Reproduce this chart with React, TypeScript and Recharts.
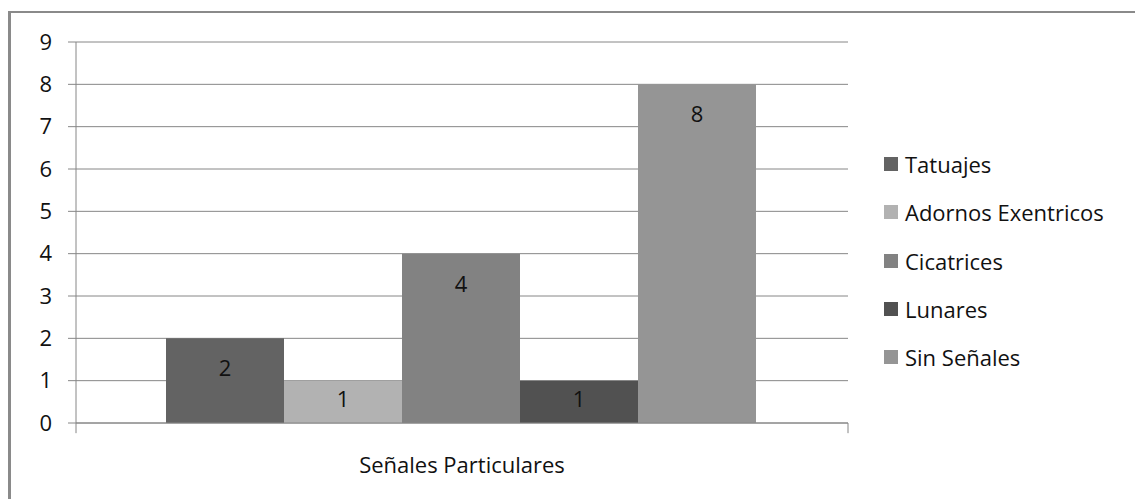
import { Bar, BarChart, CartesianGrid, LabelList, ReferenceLine, XAxis, YAxis } from "recharts"

// one category, five series
const categories = ["Señales Particulares"]
const seriesNames = ["Tatuajes", "Adornos Exentricos", "Cicatrices", "Lunares", "Sin Señales"]
const seriesValues = [2, 1, 4, 1, 8]
const seriesColors = ["#636363", "#b2b2b2", "#828282", "#515151", "#959595"]
const yTicks = [0, 1, 2, 3, 4, 5, 6, 7, 8, 9]

const data = categories.map((name) => {
  const row: Record<string, string | number> = { name }
  seriesNames.forEach((s, i) => {
    row[s] = seriesValues[i]
  })
  return row
})

const GRID = "#868686"

// label sits near the top of the bar, but never below the middle
const BarValueLabel = (props: any) => {
  const { x, y, width, height, value } = props
  const cy = y + Math.min(29, height / 2 - 4)
  return (
    <text
      x={x + width / 2}
      y={cy}
      textAnchor="middle"
      dominantBaseline="central"
      fill="#111"
      fontSize={22}
    >
      {value}
    </text>
  )
}

export default function App() {
  return (
    <div
      style={{
        position: "absolute",
        left: 0,
        top: 0,
        width: 1135,
        height: 499,
        overflow: "hidden",
        background: "#fff",
        fontFamily: "'Open Sans', sans-serif",
      }}
    >
      {/* chart frame (only top/left edges visible in the crop) */}
      <div
        style={{
          position: "absolute",
          left: 8,
          top: 11,
          width: 1300,
          height: 700,
          borderTop: "2px solid #8a8a8a",
          borderLeft: "3px solid #8a8a8a",
        }}
      />
      <BarChart
        width={1135}
        height={499}
        data={data}
        margin={{ top: 42, right: 287, bottom: 0, left: 16 }}
        barGap={0}
        barCategoryGap={90}
      >
        <CartesianGrid vertical={false} stroke={GRID} strokeOpacity={1} />
        <XAxis
          dataKey="name"
          tickLine={false}
          tickSize={0}
          tickMargin={34}
          axisLine={{ stroke: GRID }}
          tick={{ fill: "#111", fontSize: 22 }}
          height={76}
        />
        <YAxis
          domain={[0, 9]}
          ticks={yTicks}
          interval={0}
          width={60}
          tickSize={8}
          tickMargin={16}
          tickLine={{ stroke: GRID }}
          axisLine={{ stroke: GRID }}
          tick={{ fill: "#111", fontSize: 22 }}
        />
        {/* category boundary tick marks below the axis */}
        {categories.map((c) => (
          <ReferenceLine
            key={c + "-start"}
            segment={[{ x: c, y: 0 }, { x: c, y: -0.24 }]}
            position="start"
            ifOverflow="visible"
            stroke={GRID}
          />
        ))}
        {categories.map((c) => (
          <ReferenceLine
            key={c + "-end"}
            segment={[{ x: c, y: 0 }, { x: c, y: -0.24 }]}
            position="end"
            ifOverflow="visible"
            stroke={GRID}
          />
        ))}
        {seriesNames.map((s, i) => (
          <Bar key={s} dataKey={s} fill={seriesColors[i]} isAnimationActive={false}>
            <LabelList dataKey={s} content={<BarValueLabel />} />
          </Bar>
        ))}
      </BarChart>
      {/* legend */}
      <div style={{ position: "absolute", left: 884, top: 140, width: 250 }}>
        {seriesNames.map((s, i) => (
          <div
            key={s}
            style={{ display: "flex", alignItems: "center", height: 48.25, fontSize: 22, color: "#111" }}
          >
            <span
              style={{ width: 14, height: 14, background: seriesColors[i], marginRight: 7, display: "inline-block" }}
            />
            <span>{s}</span>
          </div>
        ))}
      </div>
    </div>
  )
}
